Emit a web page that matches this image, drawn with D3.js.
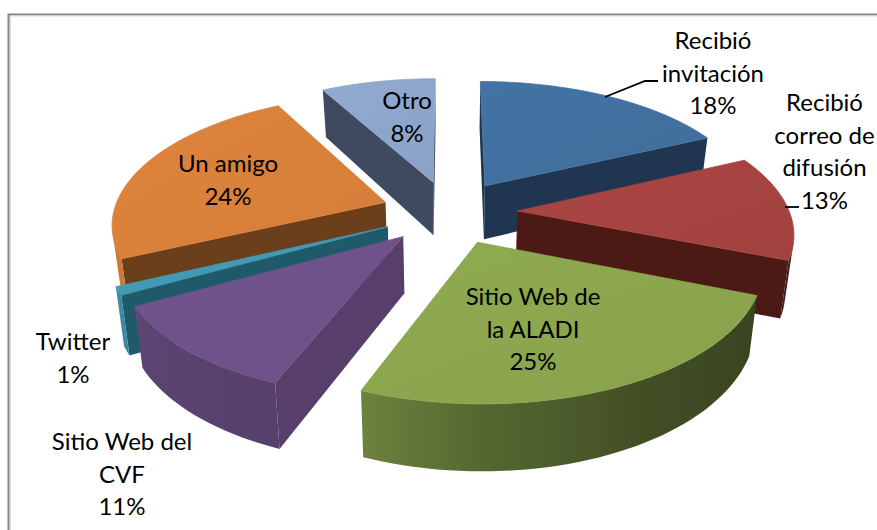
<!DOCTYPE html>
<html lang="es">
<head>
<meta charset="utf-8">
<script src="https://cdn.jsdelivr.net/npm/d3@7"></script>
<style>
html,body{margin:0;padding:0;background:#fff}
svg{display:block}
text{font-family:Lato,"Open Sans",sans-serif;font-size:24px;fill:#000;text-anchor:middle}
</style>
</head>
<body>
<svg id="c" width="877" height="530"></svg>
<script>
// ---- data ----
const categories = ["Recibió invitación","Recibió correo de difusión","Sitio Web de la ALADI","Sitio Web del CVF","Twitter","Un amigo","Otro"];
const shares = [18,13,25,11,1,24,8];
const labelLines = [["Recibió","invitación"],["Recibió","correo de","difusión"],["Sitio Web de","la ALADI"],["Sitio Web del","CVF"],["Twitter"],["Un amigo"],["Otro"]];
// ---- styles ----
const topColors = ["#41709f","#a54340","#8ba64e","#6f5289","#4299b5","#d9803a","#8ea5cb"];
const sideColors = ["#1f3550","#4c1a15","#5a7030","#573e6b","#1e5a6a","#6b3f1c","#3f4a60"];
// ---- label layout: [centre x, first baseline] ----
const labelAt = [[713,49],[824.5,111],[533,305],[122,450],[73,350],[228,172],[407,109]];
const lineStep = 32.5;
// ---- projection parameters ----
const cx = 449.5, cy = 212, f = 272, tilt = 0.468, persp = 0.15, explode = 0.25, depth = 55, shrink = 0.975;

const svg = d3.select("#c");
const xScale = d3.scaleLinear().domain([-1,1]).range([cx-f,cx+f]);
const yScale = d3.scaleLinear().domain([-1,1]).range([cy-f*tilt,cy+f*tilt]);
const wallShade = d3.scaleLinear().domain([110,150,180,201,238,245]).range([.40,.47,.62,.78,.84,.95]).clamp(true);
const line = d3.line().curve(d3.curveLinearClosed);

function top3(X,Y){
  const s = 1/(1-persp*Y);
  return [xScale(X*s), yScale(Y*s)];
}
function bottom3(X,Y){
  const s = 1/(1-persp*Y), p = top3(X,Y);
  return [cx+(p[0]-cx)*shrink, p[1]+depth*s];
}
const shade = (c,k)=>{const r=d3.rgb(c);return d3.rgb(r.r*k,r.g*k,r.b*k).formatHex();};

const arcs = d3.pie().sort(null).value(d=>d)(shares).map((a,i)=>{
  const mid = (a.startAngle+a.endAngle)/2;
  return {...a,i,mid,ox:explode*Math.sin(mid),oy:-explode*Math.cos(mid)};
});

const defs = svg.append("defs");
topColors.forEach((c,i)=>{
  const g = defs.append("linearGradient").attr("id","g"+i).attr("x1",0).attr("y1",0).attr("x2",1).attr("y2",1);
  g.append("stop").attr("offset",0).attr("stop-color",d3.rgb(c).brighter(.08).formatHex());
  g.append("stop").attr("offset",1).attr("stop-color",d3.rgb(c).darker(.06).formatHex());
});

// frame
svg.append("path").attr("d","M8.5,530V14.5H877").attr("fill","none").attr("stroke","#868686").attr("stroke-width",2);
svg.append("path").attr("d","M10.5,530V16H877").attr("fill","none").attr("stroke","#d9d9d9").attr("stroke-width",1);

// painter's order: far slices first
arcs.slice().sort((a,b)=>a.oy-b.oy).forEach(a=>{
  const g = svg.append("g");
  const n = Math.max(2,Math.ceil((a.endAngle-a.startAngle)/(Math.PI/90)));
  const angles = d3.range(n+1).map(k=>a.startAngle+(a.endAngle-a.startAngle)*k/n);
  const w = t=>[a.ox+Math.sin(t),a.oy-Math.cos(t)];
  const tip = [a.ox,a.oy];
  const ring = [tip,...angles.map(w)];
  const quadOf = (P,Q)=>[top3(...P),top3(...Q),bottom3(...Q),bottom3(...P)];

  // flat radial walls
  [[tip,ring[1]],[ring[ring.length-1],tip]].forEach(([P,Q])=>{
    const q = quadOf(P,Q);
    if(d3.polygonArea(q)>0) g.append("path").attr("d",line(q)).attr("fill",sideColors[a.i]);
  });

  // curved outer wall: one shape with a horizontal shading gradient
  const vis = d3.range(n).filter(k=>d3.polygonArea(quadOf(w(angles[k]),w(angles[k+1])))>0);
  if(vis.length){
    const A = angles.slice(vis[0],vis[vis.length-1]+2);
    const outline = [...A.map(t=>top3(...w(t))),...A.slice().reverse().map(t=>bottom3(...w(t)))];
    const xs = A.map(t=>top3(...w(t))[0]);
    const x0 = d3.min(xs), x1 = d3.max(xs);
    const grad = defs.append("linearGradient").attr("id","w"+a.i).attr("gradientUnits","userSpaceOnUse")
      .attr("x1",x0).attr("x2",Math.max(x1,x0+1)).attr("y1",0).attr("y2",0);
    A.map((t,k)=>({o:(xs[k]-x0)/Math.max(x1-x0,1),c:shade(topColors[a.i],wallShade(t*180/Math.PI))}))
      .sort((p,q)=>p.o-q.o)
      .forEach(s=>grad.append("stop").attr("offset",s.o).attr("stop-color",s.c));
    g.append("path").attr("d",line(outline)).attr("fill",`url(#w${a.i})`);
  }

  // top face
  g.append("path").attr("d",line(ring.map(p=>top3(...p))))
    .attr("fill",`url(#g${a.i})`).attr("stroke",topColors[a.i]).attr("stroke-width",.8);
});

// leader lines
const leaders = [[[605,97],[645,81],[658,81]],[[785,207],[799,207]]];
leaders.forEach(l=>svg.append("path").attr("d",d3.line()(l)).attr("fill","none").attr("stroke","#000").attr("stroke-width",1.8));

// labels
categories.forEach((c,i)=>{
  const t = svg.append("text").attr("aria-label",c);
  [...labelLines[i],shares[i]+"%"].forEach((s,k)=>{
    t.append("tspan").attr("x",labelAt[i][0]).attr("y",labelAt[i][1]+k*lineStep).text(s);
  });
});
</script>
</body>
</html>
